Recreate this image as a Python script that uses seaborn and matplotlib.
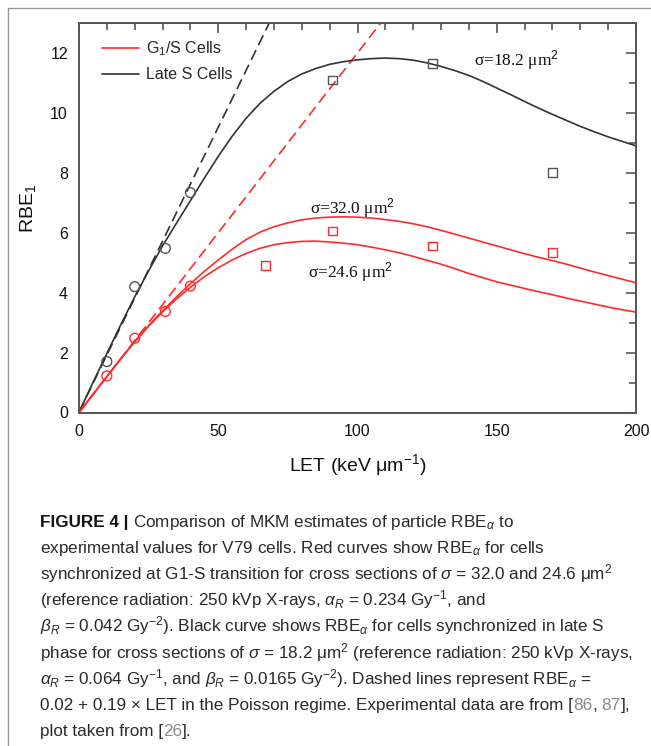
import matplotlib
matplotlib.use("Agg")
import matplotlib.pyplot as plt
import seaborn as sns
import pandas as pd
from matplotlib.ticker import MultipleLocator
from matplotlib.lines import Line2D

# ---------------- data ----------------
let_grid = [0, 5, 10, 15, 20, 25, 30, 35, 40, 45, 50, 55, 60, 65, 70, 75, 80, 85, 90, 95, 100,
            105, 110, 115, 120, 125, 130, 135, 140, 145, 150, 155, 160, 165, 170, 175, 180, 185, 190, 195, 200]
rbe_late_s_182 = [0, 1.00, 1.97, 2.93, 3.86, 4.73, 5.56, 6.32, 7.07, 7.82, 8.55, 9.22, 9.82, 10.32, 10.72,
                  11.05, 11.30, 11.48, 11.62, 11.71, 11.77, 11.81, 11.83, 11.81, 11.76, 11.67, 11.55, 11.41,
                  11.25, 11.05, 10.83, 10.61, 10.38, 10.16, 9.95, 9.75, 9.55, 9.37, 9.20, 9.05, 8.90]
rbe_g1s_320 = [0, 0.60, 1.20, 1.80, 2.37, 2.90, 3.39, 3.86, 4.30, 4.71, 5.09, 5.45, 5.77, 6.02, 6.20,
               6.33, 6.43, 6.49, 6.52, 6.53, 6.52, 6.49, 6.44, 6.38, 6.30, 6.20, 6.08, 5.95, 5.82, 5.69,
               5.56, 5.43, 5.30, 5.18, 5.07, 4.95, 4.82, 4.69, 4.57, 4.45, 4.33]
rbe_g1s_246 = [0, 0.60, 1.20, 1.79, 2.36, 2.88, 3.36, 3.79, 4.18, 4.53, 4.83, 5.09, 5.31, 5.48, 5.60,
               5.67, 5.71, 5.72, 5.69, 5.65, 5.60, 5.52, 5.43, 5.33, 5.21, 5.08, 4.95, 4.80, 4.64, 4.50,
               4.36, 4.25, 4.14, 4.03, 3.93, 3.82, 3.72, 3.62, 3.52, 3.43, 3.35]

poisson_late_let = [0, 70]
poisson_late_rbe = [0.02, 13.32]
poisson_g1s_let = [0, 110]
poisson_g1s_rbe = [0.0, 13.2]

exp_late_circ_let = [10, 20, 31, 40]
exp_late_circ_rbe = [1.70, 4.20, 5.48, 7.34]
exp_late_sq_let = [91, 127, 170]
exp_late_sq_rbe = [11.10, 11.66, 8.00]
exp_g1s_circ_let = [10, 20, 31, 40]
exp_g1s_circ_rbe = [1.22, 2.48, 3.37, 4.22]
exp_g1s_sq_let = [67, 91, 127, 170]
exp_g1s_sq_rbe = [4.90, 6.06, 5.56, 5.35]

legend_labels = ["G$_1$/S Cells", "Late S Cells"]
x_ticks = [0, 50, 100, 150, 200]
y_ticks = [0, 2, 4, 6, 8, 10, 12]

RED = "#ff2a2a"
DARK = "#333333"
SQ_DARK = "#555555"

# ---------------- style ----------------
sns.set_theme(style="white")
plt.rcParams["font.family"] = ["Liberation Sans", "DejaVu Sans"]
plt.rcParams["mathtext.fontset"] = "custom"
plt.rcParams["mathtext.rm"] = "Liberation Sans"
plt.rcParams["mathtext.it"] = "Liberation Sans:italic"
plt.rcParams["mathtext.bf"] = "Liberation Sans:bold"

W, H = 651, 746
fig = plt.figure(figsize=(W / 100, H / 100), dpi=100)
fig.patch.set_facecolor("white")
ax = fig.add_axes([79 / W, 1 - 412.5 / H, (636 - 79) / W, (412.5 - 23) / H])

n = len(let_grid)
curves = pd.DataFrame({
    "LET": let_grid * 3,
    "RBE": rbe_late_s_182 + rbe_g1s_320 + rbe_g1s_246,
    "cells": [legend_labels[1]] * n + [legend_labels[0]] * (2 * n),
    "sigma": ["18.2"] * n + ["32.0"] * n + ["24.6"] * n,
})

# dashed Poisson-regime lines
sns.lineplot(x=poisson_late_let, y=poisson_late_rbe, color=DARK, lw=1.2,
             linestyle=(0, (6.5, 3.3)), ax=ax)
sns.lineplot(x=poisson_g1s_let, y=poisson_g1s_rbe, color=RED, lw=1.2,
             linestyle=(0, (6.5, 3.3)), ax=ax)

# model curves
sns.lineplot(data=curves, x="LET", y="RBE", hue="cells", units="sigma", estimator=None,
             palette={legend_labels[0]: RED, legend_labels[1]: DARK}, lw=1.2, legend=False, ax=ax)

# experimental points
sns.scatterplot(x=exp_late_circ_let, y=exp_late_circ_rbe, marker="o", s=50, facecolor="none",
                edgecolor=SQ_DARK, linewidth=1.0, ax=ax, zorder=5)
sns.scatterplot(x=exp_g1s_circ_let, y=exp_g1s_circ_rbe, marker="o", s=50, facecolor="none",
                edgecolor=RED, linewidth=1.0, ax=ax, zorder=5)
sns.scatterplot(x=exp_late_sq_let, y=exp_late_sq_rbe, marker="s", s=40, facecolor="none",
                edgecolor=SQ_DARK, linewidth=1.0, ax=ax, zorder=5)
sns.scatterplot(x=exp_g1s_sq_let, y=exp_g1s_sq_rbe, marker="s", s=40, facecolor="none",
                edgecolor=RED, linewidth=1.0, ax=ax, zorder=5)

ax.set_xlim(0, 200)
ax.set_ylim(0, 13)
ax.set_xticks(x_ticks)
ax.set_yticks(y_ticks)
ax.xaxis.set_minor_locator(MultipleLocator(10))
ax.yaxis.set_minor_locator(MultipleLocator(1))
ax.tick_params(which="both", direction="in", top=True, right=True, color="#555555", width=1.2,
               labelsize=11.5, labelcolor="#111111", pad=8)
ax.tick_params(which="major", length=7.5)
ax.tick_params(which="minor", length=5)
for sp in ax.spines.values():
    sp.set_color("#555555")
    sp.set_linewidth(1.4)

ax.set_xlabel("LET (keV μm$^{-1}$)", fontsize=14, color="#111111")
ax.set_ylabel("RBE$_1$", fontsize=14, color="#111111")
ax.xaxis.set_label_coords(0.5, -0.102)
ax.yaxis.set_label_coords(-0.074, 0.525)

handles = [Line2D([], [], color=RED, lw=1.2), Line2D([], [], color=DARK, lw=1.2)]
ax.legend(handles, legend_labels, loc="upper left", bbox_to_anchor=(0.041, 0.957), frameon=False,
          fontsize=11.5, handlelength=2.3, handletextpad=0.45, labelspacing=0.55, borderpad=0,
          borderaxespad=0)

serif = ["Liberation Serif", "DejaVu Serif"]
ax.text(142, 11.77, "σ=18.2 μm$^2$", fontfamily=serif, fontsize=12.5, va="center", color="#111111")
ax.text(83, 6.83, "σ=32.0 μm$^2$", fontfamily=serif, fontsize=12.5, va="center", color="#111111")
ax.text(82.2, 4.69, "σ=24.6 μm$^2$", fontfamily=serif, fontsize=12.5, va="center", color="#111111")

# frame of the figure panel
fig.add_artist(Line2D([8 / W, 8 / W], [0, 1 - 8 / H], transform=fig.transFigure, color="#999999", lw=1))
fig.add_artist(Line2D([8 / W, 1], [1 - 8 / H, 1 - 8 / H], transform=fig.transFigure, color="#999999", lw=1))

# ---------------- caption ----------------
cap_family = ["Liberation Sans", "DejaVu Sans"]
cap_size = 12.3
styles = {
    "b": dict(fontweight="bold", color="#111111"),
    "n": dict(color="#2a2a2a"),
    "g": dict(color="#8a8a8a"),
}
caption_lines = [
    [("FIGURE 4 |", "b"), (" Comparison of MKM estimates of particle RBE$_\\alpha$ to", "n")],
    [("experimental values for V79 cells. Red curves show RBE$_\\alpha$ for cells", "n")],
    [("synchronized at G1-S transition for cross sections of $\\sigma$ = 32.0 and 24.6 μm$^2$", "n")],
    [("(reference radiation: 250 kVp X-rays, $\\alpha_R$ = 0.234 Gy$^{-1}$, and", "n")],
    [("$\\beta_R$ = 0.042 Gy$^{-2}$). Black curve shows RBE$_\\alpha$ for cells synchronized in late S", "n")],
    [("phase for cross sections of $\\sigma$ = 18.2 μm$^2$ (reference radiation: 250 kVp X-rays,", "n")],
    [("$\\alpha_R$ = 0.064 Gy$^{-1}$, and $\\beta_R$ = 0.0165 Gy$^{-2}$). Dashed lines represent RBE$_\\alpha$ =", "n")],
    [("0.02 + 0.19 × LET in the Poisson regime. Experimental data are from [", "n"), ("86", "g"),
     (",", "n"), (" 87", "g"), ("],", "n")],
    [("plot taken from [", "n"), ("26", "g"), ("].", "n")],
]
baselines = [527, 553, 579, 605, 631, 658, 684, 710, 736]
x_start = 40

renderer = fig.canvas.get_renderer()


def text_width(s, st):
    t = fig.text(0, 0, s, fontfamily=cap_family, fontsize=cap_size, **styles[st])
    w = t.get_window_extent(renderer).width
    t.remove()
    return w


space_w = {k: text_width("x x", k) - text_width("xx", k) for k in styles}

for segs, yb in zip(caption_lines, baselines):
    x = x_start
    for s, st in segs:
        lead = len(s) - len(s.lstrip(" "))
        x += lead * space_w[st]
        body = s.strip(" ")
        t = fig.text(x / W, 1 - yb / H, body, fontfamily=cap_family, fontsize=cap_size,
                     ha="left", va="baseline", **styles[st])
        x += t.get_window_extent(renderer).width

fig.savefig("out.png", dpi=100)
